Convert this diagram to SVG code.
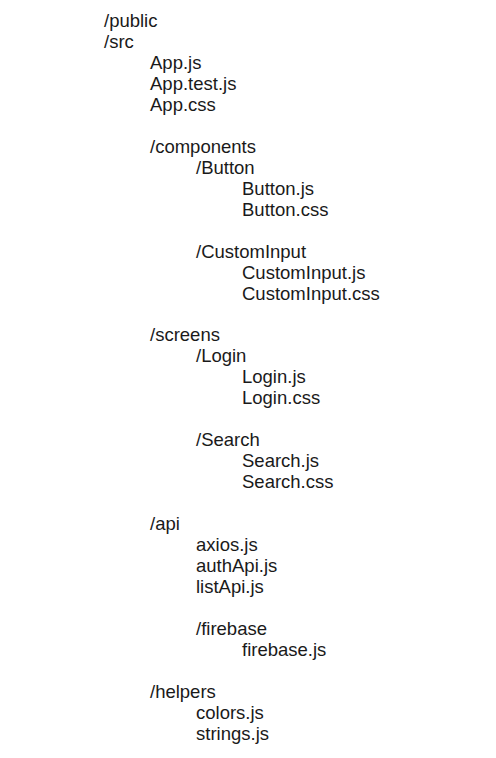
<svg xmlns="http://www.w3.org/2000/svg" width="496" height="758" viewBox="0 0 496 758">
<style>
text{font-family:"Liberation Sans",Arial,sans-serif;font-size:18.5px;fill:#1a1a1a}
</style>
<rect width="496" height="758" fill="#ffffff"/>
<g id="tree">
<text x="104" y="27">/public</text>
<text x="104" y="48">/src</text>
<text x="150" y="69">App.js</text>
<text x="150" y="90">App.test.js</text>
<text x="150" y="111">App.css</text>
<text x="150" y="153">/components</text>
<text x="196" y="174">/Button</text>
<text x="242" y="195">Button.js</text>
<text x="242" y="216">Button.css</text>
<text x="196" y="258">/CustomInput</text>
<text x="242" y="279">CustomInput.js</text>
<text x="242" y="300">CustomInput.css</text>
<text x="150" y="341">/screens</text>
<text x="196" y="362">/Login</text>
<text x="242" y="383">Login.js</text>
<text x="242" y="404">Login.css</text>
<text x="196" y="446">/Search</text>
<text x="242" y="467">Search.js</text>
<text x="242" y="488">Search.css</text>
<text x="150" y="530">/api</text>
<text x="196" y="551">axios.js</text>
<text x="196" y="572">authApi.js</text>
<text x="196" y="593">listApi.js</text>
<text x="196" y="635">/firebase</text>
<text x="242" y="656">firebase.js</text>
<text x="150" y="698">/helpers</text>
<text x="196" y="719">colors.js</text>
<text x="196" y="740">strings.js</text>
</g>
</svg>
